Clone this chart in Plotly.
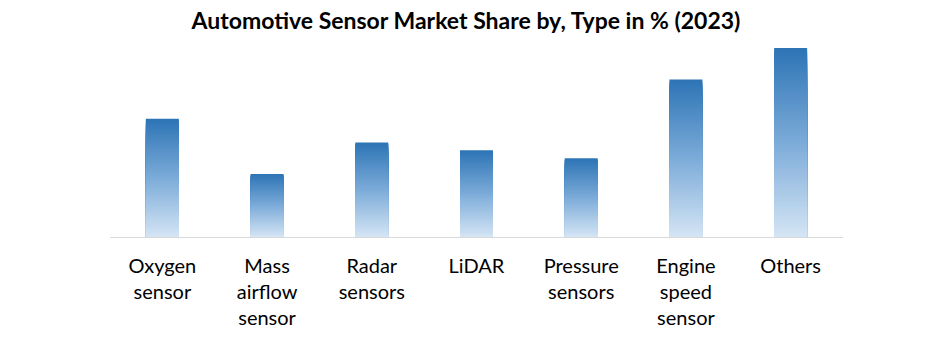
import plotly.graph_objects as go

# Market share by sensor type, percent (2023)
categories = ["Oxygen<br>sensor", "Mass<br>airflow<br>sensor", "Radar<br>sensors", "LiDAR",
              "Pressure<br>sensors", "Engine<br>speed<br>sensor", "Others"]
share_pct = [15, 8, 12, 11, 10, 20, 24]

# vertical gradient, dark at the top of each bar and pale at the base
top_rgb = (46, 117, 182)
mid_rgb = (125, 172, 217)
base_rgb = (214, 230, 245)
levels = 60


def blend(a, b, t):
    return "rgb(%d,%d,%d)" % tuple(round(a[i] + (b[i] - a[i]) * t) for i in range(3))


def gradient_color(t):
    # t = 0 at the top, 1 at the base
    if t < 0.5:
        return blend(top_rgb, mid_rgb, t / 0.5)
    return blend(mid_rgb, base_rgb, (t - 0.5) / 0.5)


fig = go.Figure()
# overlaid bars of shrinking height build the gradient without seams
for k in range(levels):
    frac = 1 - k / levels
    fig.add_trace(go.Bar(
        x=categories,
        y=[v * frac for v in share_pct],
        marker=dict(color=gradient_color(k / levels), line=dict(width=0)),
        width=0.315,
        hoverinfo="skip" if k else None,
        showlegend=False,
    ))

fig.update_layout(
    width=929,
    height=347,
    barmode="overlay",
    paper_bgcolor="white",
    plot_bgcolor="white",
    margin=dict(l=110, r=86, t=40, b=110),
    title=dict(
        text="<b>Automotive Sensor Market Share by, Type in % (2023)</b>",
        x=466 / 929, xref="container", y=1 - 21 / 347, yref="container",
        xanchor="center", yanchor="middle",
        font=dict(family="Lato", size=23, color="black"),
    ),
    xaxis=dict(
        showline=True, linecolor="#D9D9D9", linewidth=1,
        showgrid=False, ticks="", zeroline=False,
        ticklabelstandoff=11,
        tickfont=dict(family="Lato", size=20, color="black"),
    ),
    yaxis=dict(
        range=[0, 25], visible=False, showgrid=False, zeroline=False,
    ),
)

fig.write_html("out.html")
